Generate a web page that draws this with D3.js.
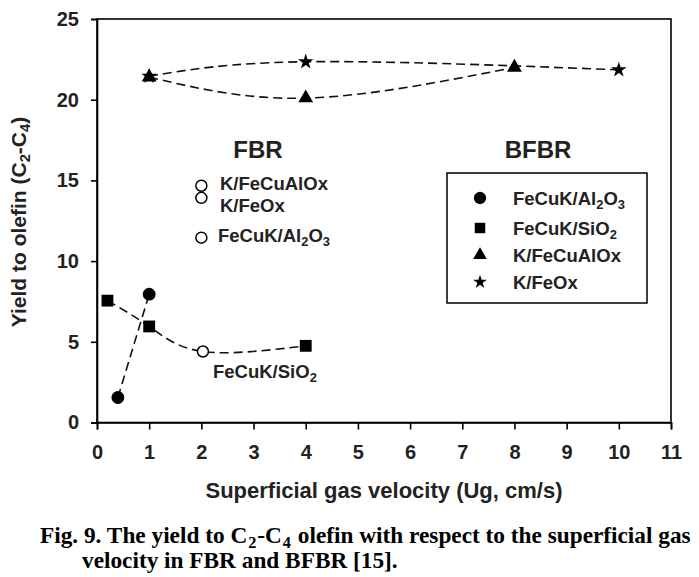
<!DOCTYPE html>
<html><head><meta charset="utf-8">
<script src="https://cdn.jsdelivr.net/npm/d3@7"></script>
<style>
html,body{margin:0;padding:0;background:#fff;}
svg{display:block;}
</style></head>
<body>
<svg id="chart" width="699" height="577"></svg>
<script>
// ---------- data ----------
const xTicks = [0,1,2,3,4,5,6,7,8,9,10,11];
const yTicks = [0,5,10,15,20,25];

const al2o3X = [0.4, 1.0];
const al2o3Y = [1.55, 7.95];

const sio2X = [0.2, 1.0, 4.0];
const sio2Y = [7.55, 5.95, 4.75];

const feCuAlOxX = [1, 4, 8];
const feCuAlOxY = [21.4, 20.1, 22.0];

const feOxX = [1, 4, 10];
const feOxY = [21.45, 22.35, 21.85];

// FBR (open circles)  ("_n" marks a subscript)
const fbrNames = ["K/FeCuAlOx", "K/FeOx", "FeCuK/Al_2O_3", "FeCuK/SiO_2"];
const fbrX = [2.0, 2.0, 2.0, 2.03];
const fbrY = [14.67, 13.92, 11.45, 4.4];

// curve through SiO2 points (BFBR squares plus FBR point)
const sio2CurveX = [0.2, 1.0, 2.03, 4.0];
const sio2CurveY = [7.55, 5.95, 4.4, 4.75];

const legendNames = ["FeCuK/Al_2O_3", "FeCuK/SiO_2", "K/FeCuAlOx", "K/FeOx"];

const xTitle = "Superficial gas velocity (Ug, cm/s)";
const yTitle = "Yield to olefin (C_2-C_4)";
const caption1 = "Fig. 9. The yield to C_2-C_4 olefin with respect to the superficial gas";
const caption2 = "velocity in FBR and BFBR [15].";

// ---------- layout ----------
const svg = d3.select("#chart");
const L = 97, R = 671, T = 19, B = 422.5;
const x = d3.scaleLinear().domain([0, 11]).range([L, R]);
const y = d3.scaleLinear().domain([0, 25]).range([B, T]);
const sans = "'Liberation Sans', Arial, Helvetica, sans-serif";
const serif = "'Liberation Serif', 'Times New Roman', serif";

// helper: chemical text with subscripts marked by "_"
function chem(sel, str, gap) {
  const parts = str.split(/(_\d)/);
  let down = false;
  parts.forEach(p => {
    if (p === "") return;
    if (/^_\d$/.test(p)) {
      sel.append("tspan").attr("dy", down ? null : "0.3em").attr("dx", gap || null)
        .attr("font-size", "70%").text(p.slice(1));
      down = true;
    } else {
      const ts = sel.append("tspan").text(p);
      if (down) { ts.attr("dy", "-0.21em").attr("dx", gap || null); down = false; }
    }
  });
}

// frame
svg.append("rect").attr("x", L).attr("y", T).attr("width", R - L).attr("height", B - T)
  .attr("fill", "none").attr("stroke", "#000").attr("stroke-width", 1.6);

// axes
const xAxis = d3.axisBottom(x).tickValues(xTicks).tickSize(7).tickFormat(d3.format("d"));
const gx = svg.append("g").attr("transform", `translate(0,${B})`).call(xAxis);
const yAxis = d3.axisLeft(y).tickValues(yTicks).tickSize(6).tickFormat(d3.format("d"));
const gy = svg.append("g").attr("transform", `translate(${L},0)`).call(yAxis);
[gx, gy].forEach(g => {
  g.select(".domain").attr("stroke-width", 1.6);
  g.selectAll(".tick line").attr("stroke-width", 1.6);
  g.selectAll(".tick text").attr("font-family", sans).attr("font-weight", "bold")
    .attr("font-size", 20).attr("fill", "#222");
});
gx.selectAll(".tick text").attr("y", 22);
gy.selectAll(".tick text").attr("x", -18);

// axis titles
svg.append("text").attr("x", 384).attr("y", 498).attr("text-anchor", "middle")
  .attr("font-family", sans).attr("font-weight", "bold").attr("font-size", 22).attr("fill", "#222")
  .text(xTitle);
const yt = svg.append("text").attr("transform", "translate(26,222) rotate(-90)").attr("text-anchor", "middle")
  .attr("font-family", sans).attr("font-weight", "bold").attr("font-size", 21).attr("fill", "#222");
chem(yt, yTitle);

// ---------- curves ----------
const zip = (a, b) => a.map((v, i) => [v, b[i]]);
const dash = "9,5";
function drawCurve(pts, curve) {
  svg.append("path").attr("d", d3.line().x(d => x(d[0])).y(d => y(d[1])).curve(curve)(pts))
    .attr("fill", "none").attr("stroke", "#111").attr("stroke-width", 1.6).attr("stroke-dasharray", dash);
}
drawCurve(zip(feOxX, feOxY), d3.curveNatural);
drawCurve(zip(feCuAlOxX, feCuAlOxY), d3.curveNatural);
drawCurve(zip(sio2CurveX, sio2CurveY), d3.curveNatural);
drawCurve(zip(al2o3X, al2o3Y), d3.curveLinear);

// ---------- markers ----------
const sym = {
  circle: d3.symbol().type(d3.symbolCircle).size(130),
  square: d3.symbol().type(d3.symbolSquare).size(140),
  triangle: d3.symbol().type(d3.symbolTriangle).size(95),
  star: d3.symbol().type(d3.symbolStar).size(75)
};
function drawMarkers(xs, ys, s) {
  svg.append("g").selectAll("path").data(zip(xs, ys)).join("path")
    .attr("transform", d => `translate(${x(d[0])},${y(d[1])})`)
    .attr("d", s).attr("fill", "#000");
}
drawMarkers(al2o3X, al2o3Y, sym.circle);
drawMarkers(sio2X, sio2Y, sym.square);
drawMarkers(feCuAlOxX, feCuAlOxY, sym.triangle);
drawMarkers(feOxX, feOxY, sym.star);

// FBR open circles
svg.append("g").selectAll("circle").data(zip(fbrX, fbrY)).join("circle")
  .attr("cx", d => x(d[0])).attr("cy", d => y(d[1])).attr("r", 5.5)
  .attr("fill", "#fff").attr("stroke", "#000").attr("stroke-width", 1.5);

// FBR labels
const lblStyle = t => t.attr("font-family", sans).attr("font-weight", "bold").attr("font-size", 18.5).attr("fill", "#222");
const fbrLabelPos = [[220, 190], [220, 212], [218, 242], [213, 378]];
fbrNames.forEach((n, i) => {
  const t = svg.append("text").attr("x", fbrLabelPos[i][0]).attr("y", fbrLabelPos[i][1]).call(lblStyle);
  chem(t, n);
});

// region titles
svg.append("text").attr("x", 258).attr("y", 158).attr("text-anchor", "middle")
  .attr("font-family", sans).attr("font-weight", "bold").attr("font-size", 24).attr("fill", "#222").text("FBR");
svg.append("text").attr("x", 538).attr("y", 158).attr("text-anchor", "middle")
  .attr("font-family", sans).attr("font-weight", "bold").attr("font-size", 24).attr("fill", "#222").text("BFBR");

// ---------- legend ----------
const lg = svg.append("g");
lg.append("rect").attr("x", 447).attr("y", 173).attr("width", 200).attr("height", 130)
  .attr("fill", "#fff").attr("stroke", "#000").attr("stroke-width", 1.5);
const legSyms = [
  d3.symbol().type(d3.symbolCircle).size(120),
  d3.symbol().type(d3.symbolSquare).size(110),
  d3.symbol().type(d3.symbolTriangle).size(80),
  d3.symbol().type(d3.symbolStar).size(60)
];
const legY = [198, 228, 255, 282];
legendNames.forEach((n, i) => {
  lg.append("path").attr("transform", `translate(480,${legY[i]})`).attr("d", legSyms[i]).attr("fill", "#000");
  const t = lg.append("text").attr("x", 513).attr("y", legY[i] + 7).call(lblStyle);
  chem(t, n);
});

// ---------- caption ----------
function captionLine(str, x0, yb, targetW, sxFixed) {
  const g = svg.append("g");
  const t = g.append("text").attr("font-family", serif).attr("font-weight", "bold")
    .attr("font-size", 24).attr("fill", "#000");
  chem(t, str, 1);
  const w = t.node().getComputedTextLength();
  const sx = sxFixed || targetW / w;
  g.attr("transform", `translate(${x0},${yb}) scale(${sx},1)`);
  return sx;
}
const sx = captionLine(caption1, 40, 543, 647);
captionLine(caption2, 82, 568, 0, sx);
</script>
</body></html>
